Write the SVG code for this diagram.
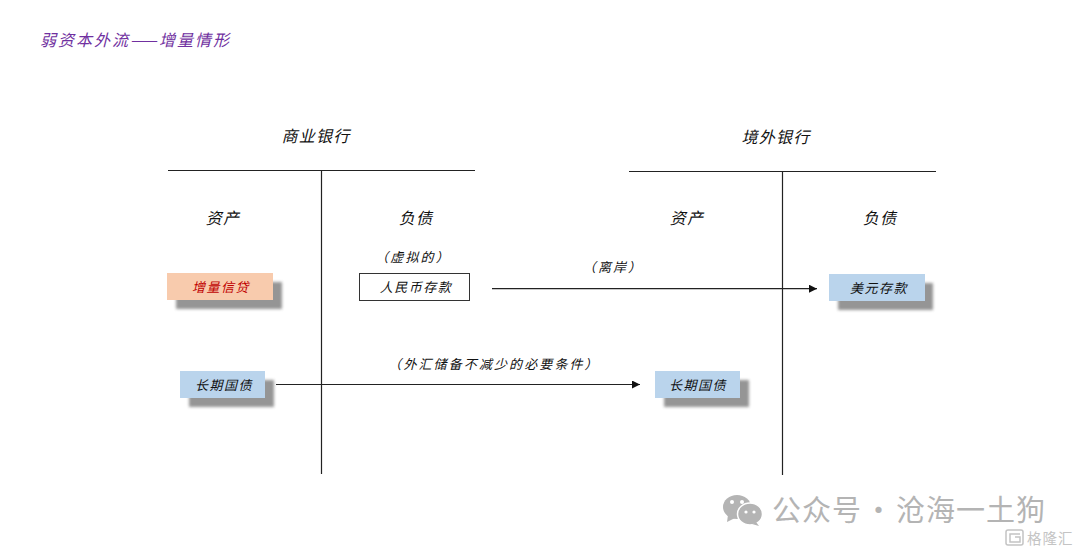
<svg xmlns="http://www.w3.org/2000/svg" width="1080" height="554" viewBox="0 0 1080 554">
<style>
text{font-family:"Noto Sans CJK SC","Noto Sans",sans-serif;font-style:italic;fill:#111;text-anchor:middle}
.h{font-size:16px;letter-spacing:1.300px}
.b{font-size:13px;letter-spacing:1.500px}
.l{font-size:13px;letter-spacing:2.100px}
.ln{stroke:#222;stroke-width:1.2;fill:none}
.shadow{fill:#555;opacity:.62;filter:url(#blur)}
.blue{fill:#bad4ec}
.wm{font-style:normal;fill:#b4b4b4;text-anchor:start}
</style>
<defs>
<filter id="blur" x="-20%" y="-30%" width="140%" height="160%"><feGaussianBlur stdDeviation="1.6"/></filter>
<marker id="arr" markerUnits="userSpaceOnUse" markerWidth="9" markerHeight="8" refX="8" refY="4" orient="auto"><path d="M0 0L8 4L0 8z" fill="#111"/></marker>
</defs>
<rect width="1080" height="554" fill="#fff"/>
<text id="title" x="135.500" y="45.500" style="font-size:16px;fill:#7030a0;letter-spacing:2px">弱资本外流——增量情形</text>
<g id="connectors">
<path class="ln" d="M168 170.500H475"/>
<path class="ln" d="M321.500 171V474"/>
<path class="ln" d="M629 171.500H936"/>
<path class="ln" d="M782.500 172V475"/>
<path class="ln" d="M492 288.700H817" marker-end="url(#arr)"/>
<path class="ln" d="M276 384.500H640" marker-end="url(#arr)"/>
</g>
<g id="bank-a"><text class="h" x="316" y="141.500">商业银行</text></g>
<g id="bank-b"><text class="h" x="776" y="142.500">境外银行</text></g>
<g id="a-assets"><text class="h" x="223" y="224">资产</text></g>
<g id="a-liab"><text class="h" x="416" y="224">负债</text></g>
<g id="b-assets"><text class="h" x="687" y="224">资产</text></g>
<g id="b-liab"><text class="h" x="880" y="224">负债</text></g>
<g id="label-virtual"><text class="l" x="413" y="262">（虚拟的）</text></g>
<g id="label-offshore"><text class="l" x="613" y="272">（离岸）</text></g>
<g id="label-fx"><text class="l" x="494" y="369">（外汇储备不减少的必要条件）</text></g>
<g id="node-credit">
<rect class="shadow" x="176" y="282" width="106" height="27"/>
<rect x="167" y="273" width="106" height="27" fill="#f8cbad"/>
<text class="b" x="221" y="292" style="fill:#c00000">增量信贷</text>
</g>
<g id="node-rmb">
<rect x="359.500" y="273.500" width="110" height="27" fill="#fff" stroke="#333" stroke-width="1"/>
<text class="b" x="416" y="292">人民币存款</text>
</g>
<g id="node-usd">
<rect class="shadow" x="838" y="283" width="95" height="27"/>
<rect class="blue" x="829" y="274" width="96" height="27"/>
<text class="b" x="879" y="293">美元存款</text>
</g>
<g id="node-bond-a">
<rect class="shadow" x="189" y="380" width="85" height="27"/>
<rect class="blue" x="180" y="371" width="85" height="27"/>
<text class="b" x="224" y="390">长期国债</text>
</g>
<g id="node-bond-b">
<rect class="shadow" x="664" y="380" width="85" height="27"/>
<rect class="blue" x="655" y="371" width="85" height="27"/>
<text class="b" x="698" y="390">长期国债</text>
</g>
<g id="watermark">
<ellipse cx="737" cy="507" rx="14" ry="12" fill="#b4b4b4"/>
<path d="M728 515L727 522L735 518z" fill="#b4b4b4"/>
<ellipse cx="750" cy="514" rx="12.500" ry="11" fill="#b4b4b4" stroke="#fff" stroke-width="1.500"/>
<path d="M756 522L759 526L752 524z" fill="#b4b4b4"/>
<circle cx="732" cy="502" r="2" fill="#fff"/><circle cx="742" cy="502" r="2" fill="#fff"/>
<circle cx="746" cy="512" r="1.600" fill="#fff"/><circle cx="754" cy="512" r="1.600" fill="#fff"/>
<text class="wm" x="772" y="521" style="font-size:29px;letter-spacing:1px">公众号<tspan x="864">·</tspan><tspan x="896">沧海一土狗</tspan></text>
<rect x="1006" y="530" width="17" height="15" rx="2" fill="none" stroke="#c4c4c4" stroke-width="1.500"/>
<path d="M1020 534H1010V542H1020V537H1015" fill="none" stroke="#c4c4c4" stroke-width="1.500"/>
<text class="wm" x="1027" y="544" style="font-size:14.500px;letter-spacing:1px;fill:#c4c4c4">格隆汇</text>
</g>
</svg>
